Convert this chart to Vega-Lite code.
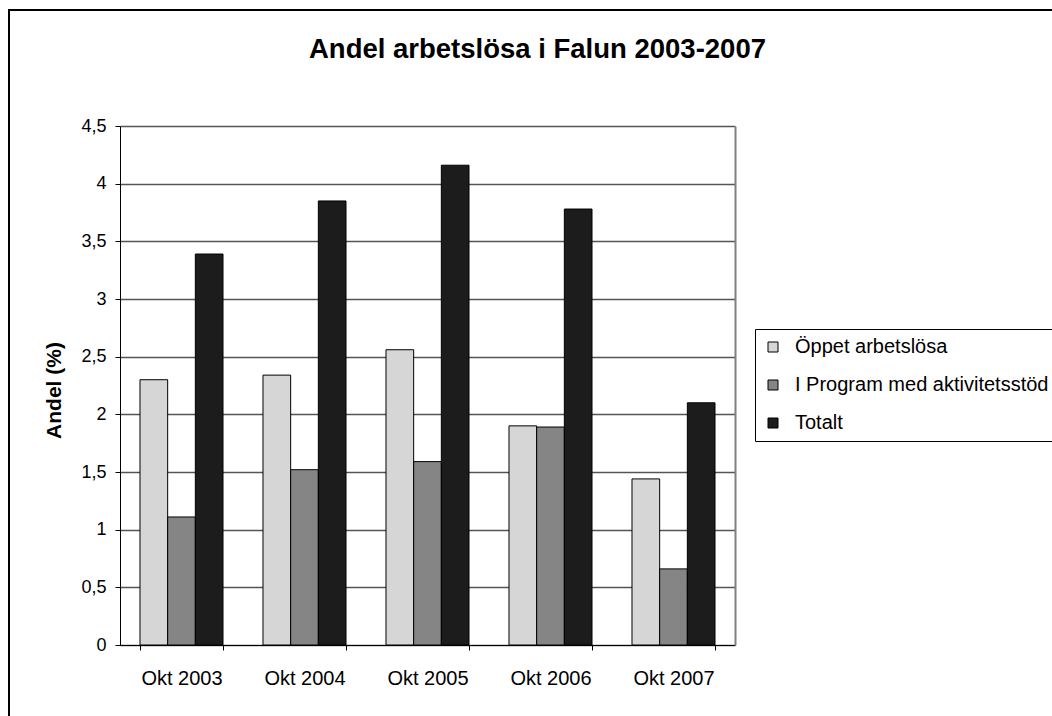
{
  "$schema": "https://vega.github.io/schema/vega-lite/v6.json",
  "width": 1047,
  "height": 710,
  "autosize": {"type": "none"},
  "padding": {"left": 9, "top": 10, "right": -4, "bottom": -4},
  "background": "white",
  "config": {
    "font": "Liberation Sans",
    "view": {"stroke": "#000", "strokeWidth": 2, "fill": "white"},
    "axis": {"labelColor": "#000", "titleColor": "#000", "domainColor": "#000", "tickColor": "#000", "domainWidth": 1, "tickWidth": 1, "tickSize": 5}
  },
  "title": {"text": "Andel arbetslösa i Falun 2003-2007", "fontSize": 27.5, "fontWeight": "bold", "color": "#000", "anchor": "middle", "frame": "group", "dx": 5, "offset": -53},
  "data": {"values": [
    {"period": "Okt 2003", "serie": "Öppet arbetslösa", "value": 2.30},
    {"period": "Okt 2003", "serie": "I Program med aktivitetsstöd", "value": 1.11},
    {"period": "Okt 2003", "serie": "Totalt", "value": 3.39},
    {"period": "Okt 2004", "serie": "Öppet arbetslösa", "value": 2.34},
    {"period": "Okt 2004", "serie": "I Program med aktivitetsstöd", "value": 1.52},
    {"period": "Okt 2004", "serie": "Totalt", "value": 3.85},
    {"period": "Okt 2005", "serie": "Öppet arbetslösa", "value": 2.56},
    {"period": "Okt 2005", "serie": "I Program med aktivitetsstöd", "value": 1.59},
    {"period": "Okt 2005", "serie": "Totalt", "value": 4.16},
    {"period": "Okt 2006", "serie": "Öppet arbetslösa", "value": 1.90},
    {"period": "Okt 2006", "serie": "I Program med aktivitetsstöd", "value": 1.89},
    {"period": "Okt 2006", "serie": "Totalt", "value": 3.78},
    {"period": "Okt 2007", "serie": "Öppet arbetslösa", "value": 1.44},
    {"period": "Okt 2007", "serie": "I Program med aktivitetsstöd", "value": 0.66},
    {"period": "Okt 2007", "serie": "Totalt", "value": 2.10}
  ]},
  "layer": [
    {
      "mark": {"type": "bar", "stroke": "#000", "strokeWidth": 1},
      "encoding": {
        "x": {"field": "period", "type": "nominal", "sort": null,
          "scale": {"range": [111, 726], "paddingInner": 0.325, "paddingOuter": 0.1625},
          "axis": {"title": null, "labelAngle": 0, "labelFontSize": 20, "labelPadding": 18, "tickBand": "extent", "grid": false, "offset": -75}},
        "xOffset": {"field": "serie", "type": "nominal", "sort": ["Öppet arbetslösa", "I Program med aktivitetsstöd", "Totalt"]},
        "y": {"field": "value", "type": "quantitative",
          "scale": {"domain": [0, 4.5], "range": [635, 116], "nice": false},
          "axis": {"orient": "left", "offset": -111, "values": [0, 0.5, 1, 1.5, 2, 2.5, 3, 3.5, 4, 4.5],
            "labelExpr": "replace(format(datum.value, '~g'), '.', ',')",
            "labelFontSize": 18, "labelPadding": 9,
            "title": "Andel (%)", "titleFontSize": 21, "titleFontWeight": "bold", "titleAngle": -90, "titleBaseline": "alphabetic", "titleX": -60, "titleY": 380,
            "grid": true, "gridColor": "#555555", "gridWidth": 1.3}},
        "color": {"field": "serie", "type": "nominal",
          "scale": {"domain": ["Öppet arbetslösa", "I Program med aktivitetsstöd", "Totalt"], "range": ["#d6d6d6", "#858585", "#1c1c1c"]},
          "legend": {"orient": "none", "legendX": 746, "legendY": 319, "title": null, "labelFontSize": 20, "labelColor": "#000", "labelLimit": 0,
            "symbolType": "square", "symbolSize": 100, "symbolStrokeColor": "#000", "symbolStrokeWidth": 1, "symbolOpacity": 1,
            "labelOffset": 12, "rowPadding": 18, "padding": 8, "strokeColor": "#000", "fillColor": "#fff"}}
      }
    },
    {
      "mark": {"type": "tick", "opacity": 0},
      "encoding": {
        "y": {"field": "value", "type": "quantitative",
          "scale": {"domain": [0, 4.5], "range": [635, 116], "nice": false},
          "axis": {"orient": "right", "offset": -321, "labels": false, "ticks": false, "grid": false, "title": null, "domainColor": "#808080", "domainWidth": 2}}
      }
    }
  ],
  "resolve": {"axis": {"y": "independent"}}
}
